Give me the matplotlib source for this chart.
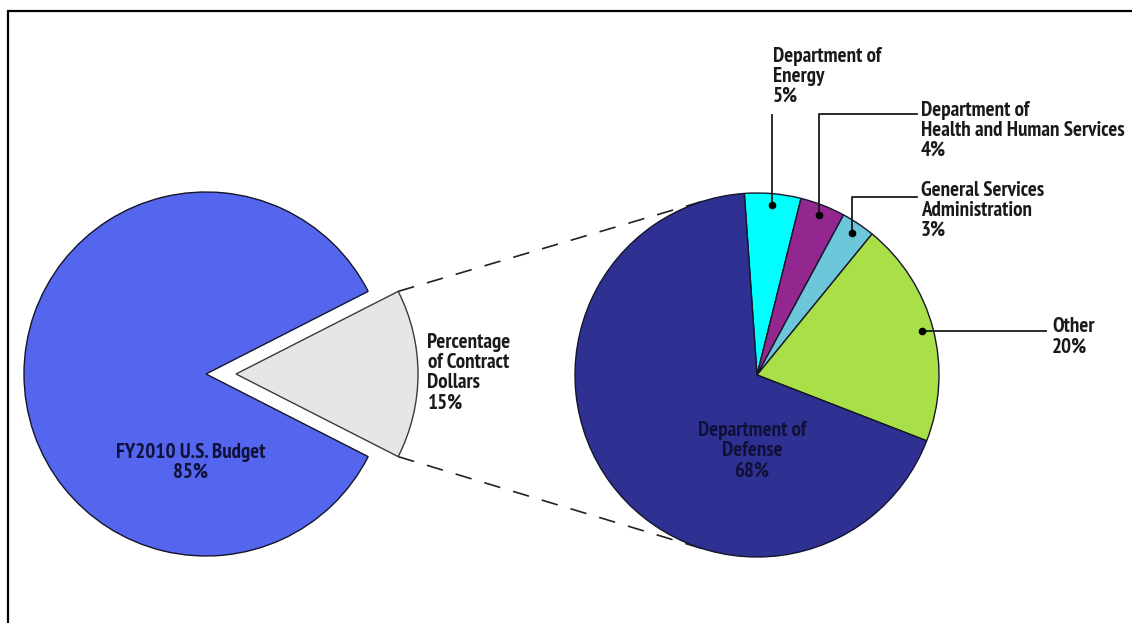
import numpy as np
import matplotlib
matplotlib.use('Agg')
import matplotlib.pyplot as plt
from matplotlib import font_manager as fm

# ---------------- data ----------------
budget_labels = ['Percentage\nof Contract\nDollars', 'FY2010 U.S. Budget']
budget_values = [15, 85]
budget_colors = ['#E6E6E6', '#5366ED']

agency_labels = ['Department of\nEnergy',
                 'Department of\nHealth and Human Services',
                 'General Services\nAdministration',
                 'Other',
                 'Department of\nDefense']
agency_values = [5, 4, 3, 20, 68]
agency_colors = ['#00FFFF', '#93278F', '#6DC7DA', '#A9DF47', '#2E3192']

# ---------------- font ----------------
names = {f.name for f in fm.fontManager.ttflist}
if 'PT Sans Narrow' in names:
    FONT = dict(family=['PT Sans Narrow', 'DejaVu Sans'], weight='bold')
    FS = 15.1
elif 'Roboto Condensed' in names:
    FONT = dict(family=['Roboto Condensed', 'DejaVu Sans'], weight='bold')
    FS = 14
else:
    FONT = dict(family=['DejaVu Sans'], weight='bold', stretch='condensed')
    FS = 12

W, H = 1132, 623
fig = plt.figure(figsize=(W / 100, H / 100), dpi=100)
ax = fig.add_axes([0, 0, 1, 1])


def Y(y):
    return H - y


R = 182
cL = (206, Y(374))
cR = (757, Y(375))
edge = '#15152a'

# left pie
wl, _ = ax.pie(budget_values, colors=budget_colors,
               startangle=-budget_values[0] * 3.6 / 2, counterclock=True,
               explode=[30, 0], center=cL, radius=R,
               wedgeprops=dict(linewidth=1.0, edgecolor=edge))
wl[0].set_edgecolor('#3a3a3a')

# right pie
wr, _ = ax.pie(agency_values, colors=agency_colors, startangle=94,
               counterclock=False, center=cR, radius=R,
               wedgeprops=dict(linewidth=1.0, edgecolor=edge))

ax.set_xlim(0, W)
ax.set_ylim(0, H)
ax.set_aspect('auto')
ax.axis('off')

# frame
ax.plot([8, 8, W + 10], [-10, Y(11), Y(11)], color='black', lw=1.6,
        solid_joinstyle='miter', zorder=5)


# dashed tangent connectors
def tangent_points(P, C, r):
    dx, dy = P[0] - C[0], P[1] - C[1]
    d = np.hypot(dx, dy)
    phi = np.arctan2(dy, dx)
    a = np.arccos(r / d)
    return [(C[0] + r * np.cos(phi + s * a), C[1] + r * np.sin(phi + s * a)) for s in (1, -1)]


g = wl[0]
gc = g.center
for th, pick in ((g.theta2, max), (g.theta1, min)):
    P = (gc[0] + R * np.cos(np.radians(th)), gc[1] + R * np.sin(np.radians(th)))
    T = pick(tangent_points(P, cR, R), key=lambda t: t[1])
    ax.plot([P[0], T[0]], [P[1], T[1]], color='#222222', lw=1.2,
            linestyle=(0, (10, 8)), zorder=0.5)

# leader dots
dots = []
for w in wr[:4]:
    mid = np.radians((w.theta1 + w.theta2) / 2)
    dots.append((cR[0] + 0.94 * R * np.cos(mid), cR[1] + 0.94 * R * np.sin(mid)))
for d in dots:
    ax.plot(d[0], d[1], 'o', ms=4.5, color='black', zorder=4)

lk = dict(color='#1a1a1a', lw=1.3, zorder=3)
# Energy
ax.plot([dots[0][0], dots[0][0]], [dots[0][1], Y(115)], **lk)
# HHS
ax.plot([dots[1][0], dots[1][0], 916.7], [dots[1][1], Y(114), Y(114)], **lk)
# GSA
ax.plot([dots[2][0], dots[2][0], 916.7], [dots[2][1], Y(197), Y(197)], **lk)
# Other
ax.plot([dots[3][0], 1045.7], [dots[3][1], dots[3][1]], **lk)

txt = dict(fontsize=FS, color='#1a1a1a', linespacing=1.08, **FONT)
pct = lambda v: f'{v}%'
ax.text(773, Y(46.5), agency_labels[0] + '\n' + pct(agency_values[0]), ha='left', va='top', **txt)
ax.text(921.0, Y(100.5), agency_labels[1] + '\n' + pct(agency_values[1]), ha='left', va='top', **txt)
ax.text(921.0, Y(180.5), agency_labels[2] + '\n' + pct(agency_values[2]), ha='left', va='top', **txt)
ax.text(1052, Y(317.5), agency_labels[3] + '\n' + pct(agency_values[3]), ha='left', va='top', **txt)
ax.text(427.5, Y(333), budget_labels[0] + '\n' + pct(budget_values[0]), ha='left', va='top', **txt)

inner = dict(fontsize=FS, color='#101038', linespacing=1.08, **FONT)
ax.text(190.7, Y(442.5), budget_labels[1] + '\n' + pct(budget_values[1]), ha='center', va='top',
        multialignment='center', **inner)
ax.text(752, Y(421), agency_labels[4] + '\n' + pct(agency_values[4]), ha='center', va='top',
        multialignment='center', **inner)

fig.savefig('out.png', dpi=100)
